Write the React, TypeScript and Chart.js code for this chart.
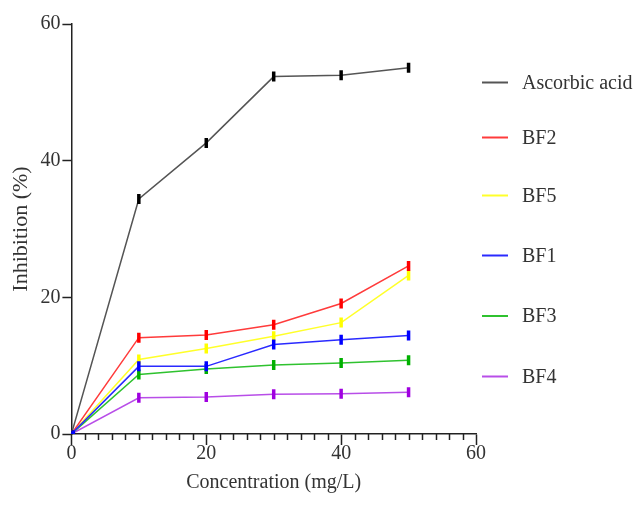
import { useEffect, useRef } from "react";
import { Chart, registerables } from "chart.js";

Chart.register(...registerables);

// ---- data ----
const concentrations = [0, 10, 20, 30, 40, 50];
const seriesNames = ["Ascorbic acid", "BF2", "BF5", "BF1", "BF3", "BF4"];
const ascorbicAcid = [0, 34.4, 42.6, 52.3, 52.5, 53.6];
const bf2 = [0, 14.1, 14.5, 16.0, 19.1, 24.6];
const bf5 = [0, 10.9, 12.5, 14.3, 16.3, 23.2];
const bf1 = [0, 9.9, 9.9, 13.1, 13.8, 14.4];
const bf3 = [0, 8.7, 9.5, 10.1, 10.4, 10.8];
const bf4 = [0, 5.3, 5.4, 5.8, 5.9, 6.1];
const xTickLabels = [0, 20, 40, 60];
const yTickLabels = [0, 20, 40, 60];

// ---- styles ----
const lineColors = ["#555555", "#ff3b3b", "#ffff2a", "#2a2aff", "#2fc22f", "#b84ee8"];
const markerColors = ["#000000", "#ff0000", "#ffff00", "#0000ff", "#00b000", "#a000e0"];
const legendYs = [82.5, 137.5, 195.5, 255.5, 316, 376.5];
const FONT = "'Liberation Serif', 'Times New Roman', serif";
const TEXT = "#333333";

const allSeries = [ascorbicAcid, bf2, bf5, bf1, bf3, bf4];

const minorTicksPlugin = {
  id: "minorTicks",
  afterDraw(chart: any) {
    const x = chart.scales.x;
    const ctx = chart.ctx;
    ctx.save();
    ctx.strokeStyle = "#222";
    ctx.lineWidth = 1.5;
    const b = chart.chartArea.bottom;
    for (let v = 0; v <= 60; v += 2) {
      if (xTickLabels.includes(v)) continue;
      const px = Math.round(x.getPixelForValue(v)) + 0.5;
      ctx.beginPath();
      ctx.moveTo(px, b);
      ctx.lineTo(px, b + 6);
      ctx.stroke();
    }
    ctx.restore();
  },
};

const legendPlugin = {
  id: "customLegend",
  afterDraw(chart: any) {
    const ctx = chart.ctx;
    ctx.save();
    chart.data.datasets.forEach((ds: any, i: number) => {
      const y = legendYs[i];
      ctx.strokeStyle = ds.borderColor;
      ctx.lineWidth = 2;
      ctx.beginPath();
      ctx.moveTo(482, y);
      ctx.lineTo(508, y);
      ctx.stroke();
      ctx.fillStyle = TEXT;
      ctx.font = `20px ${FONT}`;
      ctx.textBaseline = "middle";
      ctx.textAlign = "left";
      ctx.fillText(ds.label, 522, y + 1);
    });
    ctx.restore();
  },
};

export default function App() {
  const ref = useRef<HTMLCanvasElement | null>(null);

  useEffect(() => {
    document.body.style.margin = "0";
    const canvas = ref.current;
    if (!canvas) return;
    const datasets = seriesNames.map((name, i) => ({
      label: name,
      data: concentrations.map((c, j) => ({ x: c, y: allSeries[i][j] })),
      borderColor: lineColors[i],
      backgroundColor: markerColors[i],
      borderWidth: 1.5,
      pointBorderColor: markerColors[i],
      pointBackgroundColor: markerColors[i],
      pointStyle: (ctx: any) => (ctx.dataIndex === 0 ? "rect" : "line"),
      rotation: 90,
      pointRadius: (ctx: any) => (ctx.dataIndex === 0 ? 2.5 : 5),
      pointBorderWidth: 3.5,
      order: name === "BF1" ? -1 : i,
      tension: 0,
      fill: false,
    }));
    const chart = new Chart(canvas, {
      type: "line",
      data: { datasets },
      plugins: [minorTicksPlugin, legendPlugin],
      options: {
        animation: false,
        responsive: false,
        layout: { padding: { left: 4, right: 162, top: 24, bottom: 12 } },
        plugins: {
          legend: { display: false },
          tooltip: { enabled: false },
        },
        scales: {
          x: {
            type: "linear",
            min: 0,
            max: 60,
            border: { display: true, color: "#222", width: 1.5 },
            grid: {
              drawOnChartArea: false,
              drawTicks: true,
              tickLength: 11,
              tickWidth: 1.5,
              tickColor: (ctx: any) =>
                ctx.tick && xTickLabels.includes(ctx.tick.value) ? "#222" : "rgba(0,0,0,0)",
            },
            ticks: {
              stepSize: 2,
              autoSkip: false,
              maxRotation: 0,
              padding: -3,
              color: TEXT,
              font: { family: FONT, size: 20 },
              callback: (v: any) => (xTickLabels.includes(Number(v)) ? String(v) : ""),
            },
            title: {
              display: true,
              text: "Concentration (mg/L)",
              color: TEXT,
              font: { family: FONT, size: 20 },
              padding: { top: 8, bottom: 0 },
            },
          },
          y: {
            type: "linear",
            min: 0,
            max: 60,
            border: { display: true, color: "#222", width: 1.5 },
            grid: {
              drawOnChartArea: false,
              drawTicks: true,
              tickLength: 9,
              tickWidth: 1.5,
              tickColor: "#222",
            },
            ticks: {
              stepSize: 20,
              padding: 2,
              color: TEXT,
              font: { family: FONT, size: 20 },
              callback: (v: any) => (yTickLabels.includes(Number(v)) ? String(v) : ""),
            },
            title: {
              display: true,
              text: "Inhibition (%)",
              color: TEXT,
              font: { family: FONT, size: 22 },
              padding: { top: 4, bottom: 4 },
            },
          },
        },
      },
    });
    return () => chart.destroy();
  }, []);

  return (
    <div style={{ width: 638, height: 507 }}>
      <canvas ref={ref} width={638} height={507} style={{ display: "block" }} />
    </div>
  );
}
